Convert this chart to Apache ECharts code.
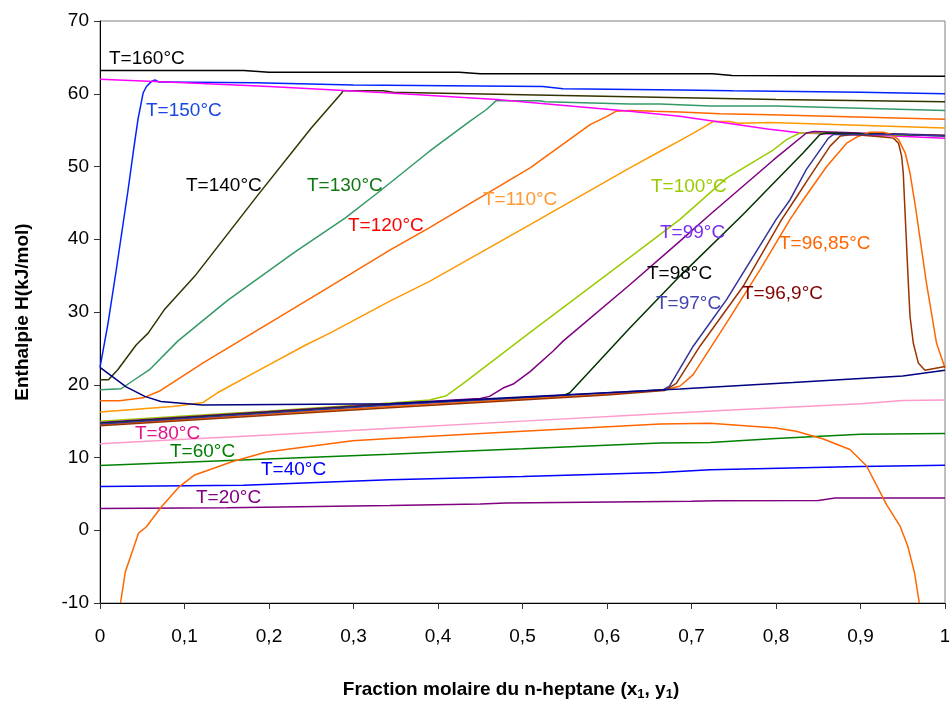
<!DOCTYPE html>
<html><head><meta charset="utf-8">
<script src="https://cdn.jsdelivr.net/npm/echarts@6/dist/echarts.min.js"></script>
<style>html,body{margin:0;padding:0;background:#fff}#c{width:949px;height:704px}</style>
</head><body><div id="c"></div>
<script>
// ---- tick labels ----
const xTickLabels = ['0','0,1','0,2','0,3','0,4','0,5','0,6','0,7','0,8','0,9','1'];
const yTickLabels = ['-10','0','10','20','30','40','50','60','70'];

// ---- series data [x, H] ----
const t160 = [[0,63.2],[0.17,63.2],[0.2,62.97],[0.425,62.97],[0.45,62.75],[0.725,62.75],[0.748,62.5],[1,62.4]];
const t150 = [[0,22.4],[0.0093,28.3],[0.019,35.6],[0.033,46.6],[0.04,52.5],[0.045,56.5],[0.051,60.1],[0.055,61.0],[0.061,61.7],[0.065,61.9],[0.07,61.6],[0.184,61.5],[0.3,61.2],[0.524,61.0],[0.548,60.7],[0.686,60.5],[0.749,60.4],[0.9,60.2],[1,60.0]];
const t140 = [[0,20.7],[0.01,20.7],[0.021,22.07],[0.043,25.5],[0.057,27.1],[0.076,30.3],[0.112,34.9],[0.187,46.1],[0.25,55.3],[0.286,60.1],[0.2875,60.4],[0.335,60.4],[0.347,60.2],[0.39,60.1],[0.627,59.6],[0.8,59.2],[1,58.9]];
const t130 = [[0,19.3],[0.025,19.45],[0.039,20.55],[0.0586,22.07],[0.092,26.0],[0.151,31.6],[0.23,38.2],[0.29,42.9],[0.331,46.6],[0.39,52.1],[0.4375,56.2],[0.457,57.8],[0.469,59.05],[0.52,59.05],[0.527,58.9],[0.627,58.6],[0.663,58.6],[0.722,58.3],[0.8,58.3],[1,57.7]];
const t120 = [[0,17.8],[0.023,17.8],[0.051,18.2],[0.07,19.1],[0.122,23.0],[0.272,33.5],[0.343,38.5],[0.39,41.6],[0.509,49.8],[0.58,55.75],[0.6,56.9],[0.611,57.6],[0.627,57.7],[0.655,57.6],[0.686,57.5],[0.734,57.25],[0.793,57.1],[1,56.5]];
const t110 = [[0,16.25],[0.086,17.0],[0.122,17.57],[0.13,18.2],[0.139,18.9],[0.185,21.8],[0.244,25.5],[0.272,27.1],[0.343,31.5],[0.39,34.2],[0.509,42.0],[0.627,49.8],[0.663,52.1],[0.69,53.8],[0.71,55.1],[0.726,56.2],[0.745,56.2],[0.755,55.95],[0.793,56.05],[1,55.3]];
const dewLine = [[0,62.0],[0.1,61.5],[0.2,61.0],[0.272,60.55],[0.343,60.1],[0.469,59.2],[0.627,57.6],[0.686,56.9],[0.79,55.15],[0.83,54.6],[0.94,54.2],[1,53.9]];
const t100 = [[0,15.0],[0.1,15.7],[0.2,16.4],[0.343,17.5],[0.39,17.9],[0.41,18.5],[0.43,20.2],[0.509,27.2],[0.627,37.5],[0.686,42.7],[0.7415,48.4],[0.797,52.3],[0.8125,53.7],[0.828,54.6],[0.87,54.6],[0.95,54.3],[1,54.3]];
const t99 = [[0,14.8],[0.343,17.4],[0.45,18.1],[0.461,18.4],[0.477,19.55],[0.489,20.1],[0.509,21.8],[0.536,24.6],[0.548,26.0],[0.627,33.75],[0.686,39.7],[0.722,43.4],[0.797,50.9],[0.836,54.6],[0.845,54.8],[0.9,54.6],[1,54.3]];
const t98 = [[0,14.7],[0.343,17.3],[0.548,18.5],[0.556,18.9],[0.627,27.8],[0.686,34.9],[0.761,43.4],[0.797,47.7],[0.832,51.85],[0.852,54.4],[0.86,54.6],[0.95,54.4],[1,54.2]];
const t97 = [[0,14.6],[0.343,17.2],[0.666,19.3],[0.674,19.8],[0.702,25.3],[0.7415,31.7],[0.8,42.7],[0.8165,45.4],[0.836,49.6],[0.862,53.9],[0.868,54.4],[0.95,54.4],[1,54.2]];
const t969 = [[0,14.35],[0.343,16.85],[0.6,18.6],[0.668,19.2],[0.682,20.2],[0.71,25.3],[0.761,33.5],[0.8066,42.7],[0.822,45.4],[0.84,48.6],[0.864,52.8],[0.876,54.2],[0.891,54.4],[0.927,54.05],[0.939,53.9],[0.945,53.2],[0.9487,51.4],[0.9506,49.1],[0.9526,44.0],[0.9566,34.0],[0.9586,29.4],[0.9625,25.7],[0.9684,23.0],[0.9763,22.0],[1,22.5]];
const t9685 = [[0,14.5],[0.343,17.0],[0.6,18.7],[0.668,19.3],[0.686,19.8],[0.702,21.4],[0.7415,28.5],[0.781,35.8],[0.8165,42.7],[0.832,45.4],[0.86,50.0],[0.8836,53.2],[0.8955,54.05],[0.911,54.7],[0.927,54.7],[0.937,54.4],[0.945,53.7],[0.953,51.85],[0.9586,49.1],[0.965,44.5],[0.978,34.0],[0.99,25.7],[1,22.3]];
const bubbleLine = [[0,22.4],[0.031,19.7],[0.053,18.4],[0.072,17.7],[0.121,17.2],[0.343,17.4],[0.5,18.3],[0.686,19.4],[0.82,20.3],[0.95,21.2],[1,22.0]];
const t80 = [[0,11.9],[0.1,12.5],[0.2,13.1],[0.34,14.0],[0.5,15.0],[0.663,16.0],[0.741,16.5],[0.9,17.4],[0.95,17.85],[1,17.9]];
const t60 = [[0,8.9],[0.343,10.45],[0.5,11.2],[0.663,12.0],[0.722,12.05],[0.8,12.6],[0.9,13.2],[1,13.3]];
const t40 = [[0,6.0],[0.17,6.2],[0.343,6.95],[0.5,7.4],[0.663,7.95],[0.722,8.33],[0.9,8.78],[1,8.92]];
const t20 = [[0,3.0],[0.15,3.1],[0.343,3.4],[0.45,3.6],[0.48,3.75],[0.7,3.97],[0.73,4.06],[0.85,4.1],[0.87,4.43],[1,4.43]];
const mixCurve = [[0.0243,-10],[0.030,-5.7],[0.0456,-0.4],[0.0547,0.45],[0.0725,3.2],[0.094,6.0],[0.112,7.6],[0.157,9.46],[0.197,10.75],[0.299,12.3],[0.343,12.6],[0.5,13.6],[0.663,14.6],[0.722,14.7],[0.80,14.05],[0.824,13.6],[0.856,12.55],[0.8875,11.1],[0.907,8.87],[0.931,3.5],[0.947,0.53],[0.956,-2.2],[0.964,-5.9],[0.9696,-10]];

// ---- curve labels ----
const curveLabels = ['T=160°C','T=150°C','T=140°C','T=130°C','T=120°C','T=110°C','T=100°C','T=99°C','T=98°C','T=97°C','T=96,9°C','T=96,85°C','T=80°C','T=60°C','T=40°C','T=20°C'];

const FONT = '"Liberation Sans", Arial, Helvetica, sans-serif';
const labelStyle = [
  {x:109,y:60,c:'#000000'},{x:146,y:112,c:'#1a47e0'},{x:186,y:187,c:'#000000'},{x:307,y:187,c:'#117711'},
  {x:348,y:227,c:'#ff0000'},{x:483,y:201,c:'#ff9933'},{x:651,y:188,c:'#99cc00'},{x:660,y:234,c:'#7a2df0'},
  {x:647,y:275,c:'#000000'},{x:656,y:305,c:'#4545b0'},{x:742,y:295,c:'#800000'},{x:779,y:245,c:'#ff6600'},
  {x:135,y:435,c:'#e0158a'},{x:170,y:453,c:'#008000'},{x:261,y:471,c:'#0000ff'},{x:196,y:499,c:'#800080'}
];

const seriesDefs = [
  [t20,'#800080'],[t40,'#0000ff'],[t60,'#008000'],[t80,'#ff99cc'],[mixCurve,'#ff6600'],
  [t160,'#000000'],[t150,'#0022ff'],[t140,'#333300'],[t130,'#339966'],[t120,'#ff6600'],[t110,'#ff9900'],
  [dewLine,'#ff00ff'],[t100,'#99cc00'],[t99,'#800080'],[t98,'#003300'],[t9685,'#ff6600'],[t969,'#993300'],[t97,'#333399'],[bubbleLine,'#000080']
];

const chart = echarts.init(document.getElementById('c'), null, {renderer:'canvas'});
chart.setOption({
  animation:false,
  backgroundColor:'#ffffff',
  textStyle:{fontFamily:FONT},
  grid:{left:100,right:4,top:21,bottom:101,outerBoundsMode:'none',containLabel:false,show:true,borderColor:'#808080',borderWidth:1,backgroundColor:'transparent'},
  xAxis:{type:'value',min:0,max:1,interval:0.1,
    axisLine:{show:true,onZero:false,lineStyle:{color:'#000',width:1}},
    axisTick:{show:true,inside:false,length:6,lineStyle:{color:'#333'}},
    splitLine:{show:false},
    axisLabel:{color:'#000',fontSize:19,fontFamily:FONT,margin:24,
      formatter:(v)=>xTickLabels[Math.round(v*10)]}
  },
  yAxis:{type:'value',min:-10,max:70,interval:10,
    axisLine:{show:true,onZero:false,lineStyle:{color:'#000',width:1}},
    axisTick:{show:true,inside:false,length:6,lineStyle:{color:'#333'}},
    splitLine:{show:false},
    axisLabel:{color:'#000',fontSize:19,fontFamily:FONT,margin:11,
      formatter:(v)=>yTickLabels[Math.round((v+10)/10)]}
  },
  series: seriesDefs.map(([d,c])=>({type:'line',data:d,showSymbol:false,symbol:'none',clip:true,
    lineStyle:{color:c,width:1.5},emphasis:{disabled:true},silent:true})),
  graphic:[
    ...curveLabels.map((t,i)=>({type:'text',left:labelStyle[i].x,top:labelStyle[i].y-11,z:100,
      style:{text:t,fill:labelStyle[i].c,font:'19px '+FONT}})),
    {type:'text',z:100,x:13,y:312,rotation:Math.PI/2,
      style:{text:'Enthalpie H(kJ/mol)',fill:'#000',font:'bold 19px '+FONT,align:'center',verticalAlign:'top'}},
    {type:'text',z:100,x:511,y:690,
      style:{rich:{b:{font:'bold 19px '+FONT,fill:'#000'},s:{font:'bold 13px '+FONT,fill:'#000',padding:[8,0,0,0]}},
        text:'{b|Fraction molaire du n-heptane (x}{s|1}{b|, y}{s|1}{b|)}',align:'center',verticalAlign:'middle'}}
  ]
});
</script></body></html>
